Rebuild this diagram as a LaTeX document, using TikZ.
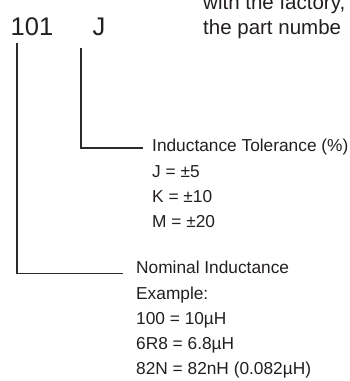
\documentclass[tikz,border=0pt]{standalone}
\usepackage{fontspec}
\setmainfont{Liberation Sans}
\definecolor{ink}{HTML}{231F20}
\definecolor{leadgray}{HTML}{2B2B2B}
\tikzset{
    code/.style={inner sep=0pt, anchor=base west, text=ink, font=\fontsize{25.5}{30}\selectfont},
    legend/.style={inner sep=0pt, anchor=base west, align=left, text=ink, font=\fontsize{17.3}{25}\selectfont},
    leader/.style={draw=leadgray, line width=1.6pt}
}
\begin{document}
\begin{tikzpicture}[x=1pt, y=-1pt]
\useasboundingbox (0,0) rectangle (350,381);
\clip (0,0) rectangle (350,381);

% Bestellcode
\node[code] (code1) at (10.5,35) {101};
\node[code] (code2) at (92.5,35) {J};

% Hinweis oben rechts (base = letzte Zeile)
\node[legend, font=\fontsize{20.5}{25}\selectfont] (note) at (203,34) {with the factory,\\the part numbe};

% Toleranz
\node[legend] (tol) at (152,151) {Inductance Tolerance (\%)};
\node[legend] (tolvals) at (152,227) {J = ±5\\K = ±10\\M = ±20};

% Nennwert
\node[legend] (nom) at (136,273.5) {Nominal Inductance};
\node[legend] (nomvals) at (136,374) {Example:\\100 = 10µH\\6R8 = 6.8µH\\82N = 82nH (0.082µH)};

% Fuehrungslinien
\draw[leader] ([shift={(-11.5,13)}]code2.base west) |- ([shift={(-9,-3)}]tol.base west);
\draw[leader] ([shift={(6.5,8)}]code1.base west) |- ([shift={(-13,0)}]nom.base west);
\end{tikzpicture}
\end{document}
